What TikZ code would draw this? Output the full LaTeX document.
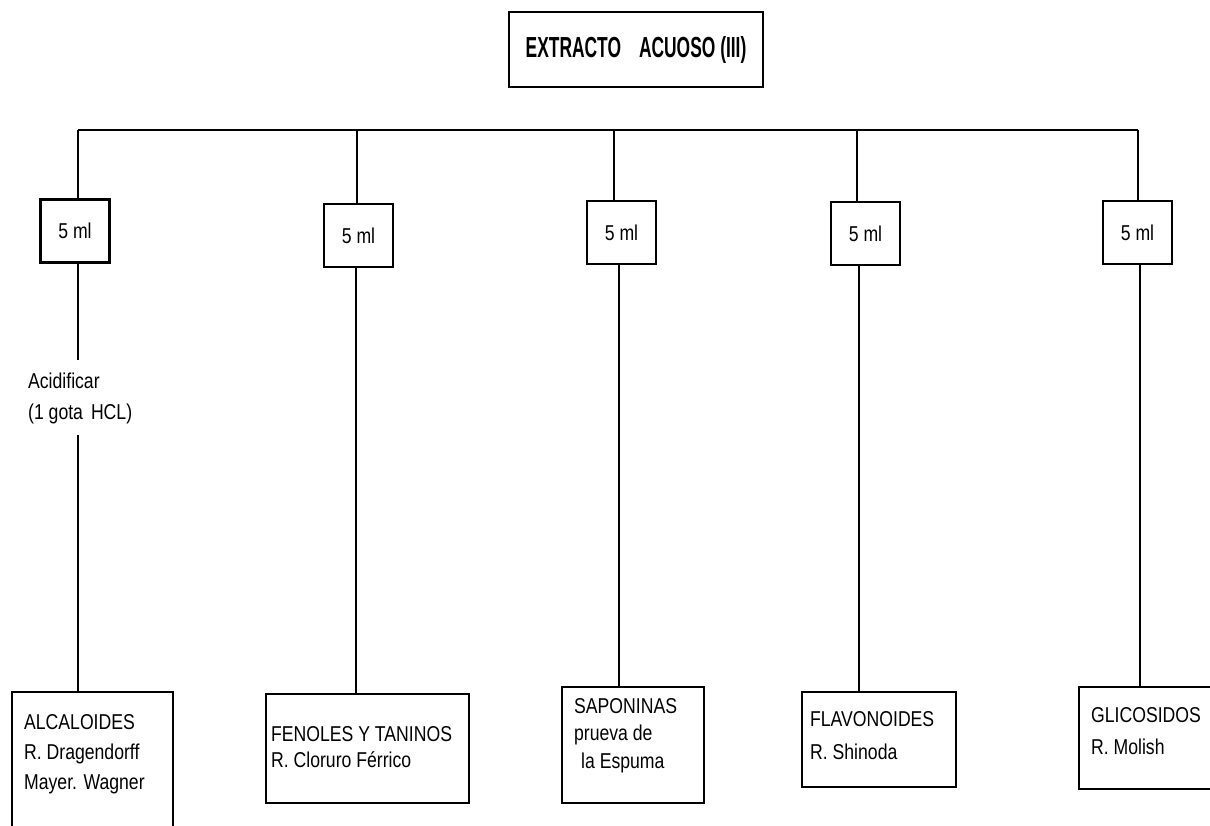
\documentclass[tikz,border=0pt]{standalone}
\usepackage{fontspec}
\setmainfont{Liberation Sans}
\newfontfamily\condfont{Liberation Sans}[FakeStretch=0.82]
\newfontfamily\titlefont{Liberation Sans}[FakeStretch=0.6]
\begin{document}
\begin{tikzpicture}[x=0.5pt,y=-0.5pt, line width=1.15pt,
  boxstyle/.style={draw, rectangle, inner sep=0pt, line width=1.15pt},
  mlbox/.style={boxstyle, minimum width=34.5pt, minimum height=31.5pt,
    font=\condfont\fontsize{10.75}{13}\selectfont},
  txt/.style={inner sep=0pt, anchor=north west, align=left},
  conn/.style={line width=1.15pt}]
\useasboundingbox (0,0) rectangle (1210,825);
\clip (0,0) rectangle (1210,825);

% title
\node[boxstyle, minimum width=127pt, minimum height=37.5pt,
  font=\titlefont\bfseries\fontsize{14.5}{17}\selectfont] (title) at (636,49.5)
  {EXTRACTO\hspace{9pt}ACUOSO (III)};

% bar columns
\coordinate (b1) at (78,130);
\coordinate (b2) at (357,130);
\coordinate (b3) at (614,130);
\coordinate (b4) at (857,130);
\coordinate (b5) at (1138,130);
\coordinate (k2) at (356,690);
\coordinate (k3) at (619,690);
\coordinate (k4) at (859,690);
\coordinate (k5) at (1140,690);
\coordinate (g1) at (78,360);
\coordinate (g2) at (78,435);

% 5 ml boxes
\node[mlbox] (m1) at (75,231) {5 ml};
\node[mlbox] (m2) at (358.5,235.5) {5 ml};
\node[mlbox] (m3) at (621.5,232.5) {5 ml};
\node[mlbox] (m4) at (865.5,233.5) {5 ml};
\node[mlbox] (m5) at (1137.5,232.5) {5 ml};

% result boxes
\node[boxstyle, minimum width=80.5pt, minimum height=71.5pt] (r1) at (92.5,763.5) {};
\node[boxstyle, minimum width=101.5pt, minimum height=54.5pt] (r2) at (367.5,748.5) {};
\node[boxstyle, minimum width=71pt, minimum height=58pt] (r3) at (633,745) {};
\node[boxstyle, minimum width=77pt, minimum height=47.5pt] (r4) at (879,739.5) {};
\node[boxstyle, minimum width=73pt, minimum height=51pt] (r5) at (1152,738) {};

\node[txt, font=\condfont\fontsize{10.75}{15}\selectfont] (t1) at (23,713)
  {ALCALOIDES\\R. Dragendorff\\Mayer. Wagner};
\node[txt, font=\condfont\fontsize{10.75}{13}\selectfont] (t2) at (270,725)
  {FENOLES Y TANINOS\\R. Cloruro Férrico};
\node[txt, font=\condfont\fontsize{10.75}{13.8}\selectfont] (t3) at (573,697)
  {SAPONINAS\\prueva de\\\hspace*{3.5pt}la Espuma};
\node[txt, font=\condfont\fontsize{10.75}{16.5}\selectfont] (t4) at (809,710)
  {FLAVONOIDES\\R. Shinoda};
\node[txt, font=\condfont\fontsize{10.75}{16}\selectfont] (t5) at (1090,706)
  {GLICOSIDOS\\R. Molish};

% acidificar
\node[txt, font=\condfont\fontsize{10.75}{15.5}\selectfont] (acid) at (27,372)
  {Acidificar\\(1 gota\hspace{4pt}HCL)};

% connectors
\draw[conn] (b1) -- (b2) -- (b3) -- (b4) -- (b5);
\draw[conn] (b1) -- (b1 |- m1.north);
\draw[conn] (b2) -- (b2 |- m2.north);
\draw[conn] (b3) -- (b3 |- m3.north);
\draw[conn] (b4) -- (b4 |- m4.north);
\draw[conn] (b5) -- (b5 |- m5.north);

\draw[conn] (m1.south -| g1) -- (g1);
\draw[conn] (g2) -- (g2 |- r1.north);
\draw[conn] (m2.south -| k2) -- (k2 |- r2.north);
\draw[conn] (m3.south -| k3) -- (k3 |- r3.north);
\draw[conn] (m4.south -| k4) -- (k4 |- r4.north);
\draw[conn] (m5.south -| k5) -- (k5 |- r5.north);
\end{tikzpicture}
\end{document}
